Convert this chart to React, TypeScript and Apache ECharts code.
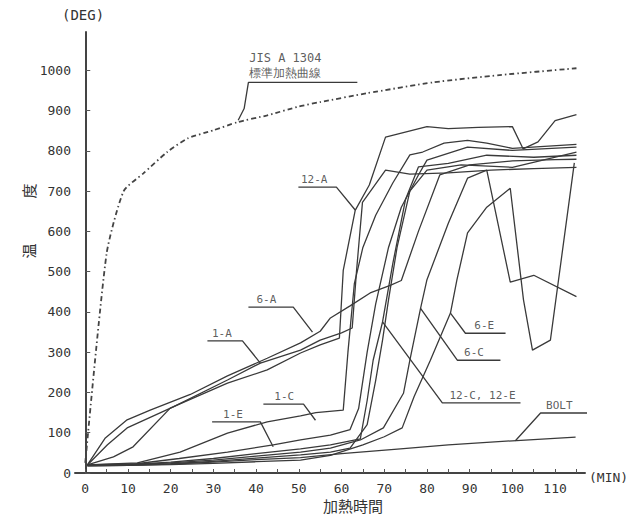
import React, { useEffect, useRef } from "react";
import * as echarts from "echarts";

// ---- data (time in minutes, temperature in deg C) ----
const jisCurve: number[][] = [[0,25],[5,545],[9,700],[13.6,744],[19.2,797],[24,831],[30,851],[35.6,871],[42.6,888],[50,910],[55,921],[66,943],[81.5,970],[97,988],[115,1005]];

const s6A: number[][] = [[0.5,20],[4.7,87],[9.8,132],[15.2,156],[24.6,195],[33.3,241],[42.6,285],[50.4,323],[55,352],[57.4,385],[62,415],[66.7,447],[71.4,466],[74,478],[78,600],[83,740],[90,765],[100,775],[110,778],[115,779]];
const s1A: number[][] = [[0.5,20],[5.2,70],[9.8,112],[20.6,164],[33.3,231],[41,273],[50.4,305],[55,330],[60,348],[62.5,360],[63.5,500],[64.9,672],[70.3,752],[76,742],[85,745],[95,752],[105,756],[115,759]];
const s12A: number[][] = [[0.5,20],[6.6,40],[11.2,65],[19.9,161],[33.3,223],[42.6,256],[50.4,298],[55,318],[59.5,335],[60.4,503],[63.2,652],[66.5,715],[70.3,834],[80,860],[85,855],[92,858],[100,860],[102.5,805],[106,822],[110,875],[115,890]];
const s1C: number[][] = [[0.5,20],[12.2,25],[22.2,52],[33.3,99],[42.6,127],[50.4,142],[54,150],[60.4,156],[61.5,300],[63,470],[65,560],[68,640],[72,720],[76,790],[79,797],[84,819],[89.5,826],[94,819],[100,806],[115,816]];
const s1E: number[][] = [[0.5,20],[12,23],[22,36],[33.3,52],[44,70],[50.4,82],[57.4,94],[62,108],[64,160],[66,300],[68,420],[71,560],[74,660],[78,740],[80,777],[89.5,809],[100,801],[115,809]];
const s12C: number[][] = [[0.5,20],[10,21],[20,27],[30,36],[40,48],[50.4,60],[57.4,70],[64.4,85],[66,180],[67.4,280],[69.6,375],[72,520],[75,680],[78,760],[85,769],[94,789],[105,784],[115,789]];
const s12E: number[][] = [[0.5,20],[10,20],[20,23],[30,29],[40,37],[50.4,45],[57.4,52],[62,62],[66,120],[68,230],[69.6,330],[71,430],[73,560],[76,700],[80,752],[88,765],[100,759],[115,797]];
const s6C: number[][] = [[0.5,20],[10,21],[20,25],[30,32],[40,42],[50.4,52],[57.4,62],[64.4,82],[69.8,112],[74.5,198],[76,280],[78.5,409],[80,480],[85,620],[89.5,732],[94,752],[99.5,474],[105,491],[115,438]];
const s6E: number[][] = [[0.5,18],[10,19],[20,21],[30,24],[40,28],[50.4,32],[57.4,44],[65,70],[70,90],[74.2,112],[77,190],[80.8,280],[85.5,397],[87,479],[89.5,596],[94,660],[99.5,707],[102.6,430],[104.7,305],[108.9,330],[114.5,770]];
const sBolt: number[][] = [[0.5,18],[10,19],[20,22],[30,27],[40,33],[50.4,38],[60,48],[73.8,60],[85,70],[100,80],[114.8,89]];

const seriesNames = ["6-A", "1-A", "12-A", "1-C", "1-E", "12-C", "12-E", "6-C", "6-E", "BOLT"];
const seriesData = [s6A, s1A, s12A, s1C, s1E, s12C, s12E, s6C, s6E, sBolt];

const xTickValues = [0,5,10,15,20,25,30,35,40,45,50,55,60,65,70,75,80,85,90,95,100,105,110,115];
const xLabelValues = [0,10,20,30,40,50,60,70,80,90,100,110];
const yValues = [0,100,200,300,400,500,600,700,800,900,1000];

// annotation leaders: underline far end, underline near end, tip (data coords)
const leaderPaths: number[][][] = [
  [[63.7,970],[38.2,970],[37.2,905],[35.8,876]],
  [[49.9,710],[58.8,710],[63.2,653]],
  [[38.2,412],[48.7,412],[53.2,350]],
  [[28.6,328],[36.8,328],[41,273]],
  [[41.7,171],[51.1,171],[53.9,131]],
  [[29.7,127],[41,127],[44,65]],
  [[98.4,347],[89,347],[85.5,397]],
  [[97.2,280],[87.1,280],[78.5,409]],
  [[101.9,174],[83.6,174],[69.6,375]],
  [[119,149],[106.6,149],[100.7,80]],
];
const labelTexts = ["JIS A 1304\n標準加熱曲線", "12-A", "6-A", "1-A", "1-C", "1-E", "6-E", "6-C", "12-C, 12-E", "BOLT"];
const labelAnchors: number[][] = [[38.4,970],[53.6,710],[42.4,412],[32,328],[46.6,171],[34.6,127],[93.4,347],[91,280],[93,174],[111,149]];

const INK = "#3a3a3a";
const MONO = '"DejaVu Sans Mono", monospace';

export default function App() {
  const ref = useRef<HTMLDivElement>(null);
  useEffect(() => {
    if (!ref.current) return;
    const chart = echarts.init(ref.current, undefined, { renderer: "svg" });
    const lineSeries: any[] = seriesData.map((d, i) => ({
      type: "line",
      name: seriesNames[i],
      data: d,
      symbol: "none",
      lineStyle: { color: INK, width: 1.3 },
      z: 3,
    }));
    const jis = {
      type: "line",
      name: "JIS A 1304",
      data: jisCurve,
      symbol: "none",
      smooth: 0.2,
      lineStyle: { color: "#444", width: 1.8, type: [5, 3, 1.5, 3] },
    };
    const leaders = leaderPaths.map((p, i) => ({
      type: "line",
      name: "leader-" + i,
      data: p,
      symbol: "none",
      clip: false,
      lineStyle: { color: INK, width: 1.3 },
      silent: true,
    }));
    const labels = {
      type: "scatter",
      name: "labels",
      symbolSize: 0,
      clip: false,
      silent: true,
      data: labelAnchors.map((a, i) => ({
        value: a,
        name: labelTexts[i],
        label: i === 0
          ? { align: "left", fontSize: 12, lineHeight: 15 }
          : {},
      })),
      label: {
        show: true,
        position: "top",
        distance: 2,
        formatter: "{b}",
        color: "#333",
        fontFamily: MONO,
        fontSize: 11,
      },
    };
    chart.setOption({
      animation: false,
      backgroundColor: "#ffffff",
      grid: { left: 75, top: 32, width: 510, height: 441, containLabel: false },
      xAxis: {
        type: "value",
        min: -2.4,
        max: 117,
        axisLine: { show: true, lineStyle: { color: "#444", width: 2 } },
        axisTick: { show: true, inside: true, length: 4, customValues: xTickValues, lineStyle: { color: "#555" } },
        axisLabel: { customValues: xLabelValues, color: "#333", fontFamily: MONO, fontSize: 13, margin: 9, formatter: (v: number) => String(v) },
        splitLine: { show: false },
      },
      yAxis: {
        type: "value",
        min: 0,
        max: 1095,
        axisLine: { show: true, lineStyle: { color: "#444", width: 2 } },
        axisTick: { show: true, inside: true, length: 5, customValues: yValues, lineStyle: { color: "#555" } },
        axisLabel: { customValues: yValues, color: "#333", fontFamily: MONO, fontSize: 13, margin: 4, formatter: (v: number) => String(v) },
        splitLine: { show: false },
      },
      graphic: [
        { type: "text", x: 62, y: 8, style: { text: "(DEG)", font: '14px "DejaVu Sans Mono"', fill: "#333" } },
        { type: "text", x: 589, y: 471, style: { text: "(MIN)", font: '13px "DejaVu Sans Mono"', fill: "#333" } },
        { type: "text", x: 353, y: 505, style: { text: "加熱時間", font: '15px "Noto Sans CJK JP"', fill: "#333", textAlign: "center", textVerticalAlign: "middle" } },
        { type: "text", x: 28, y: 221, rotation: Math.PI / 2, style: { text: "温　　　度", font: '15px "Noto Sans CJK JP"', fill: "#333", textAlign: "center", textVerticalAlign: "middle" } },
      ],
      series: [jis, ...lineSeries, ...leaders, labels],
    });
    return () => chart.dispose();
  }, []);
  return <div ref={ref} style={{ position: "fixed", left: 0, top: 0, width: 631, height: 523, background: "#fff" }} />;
}
